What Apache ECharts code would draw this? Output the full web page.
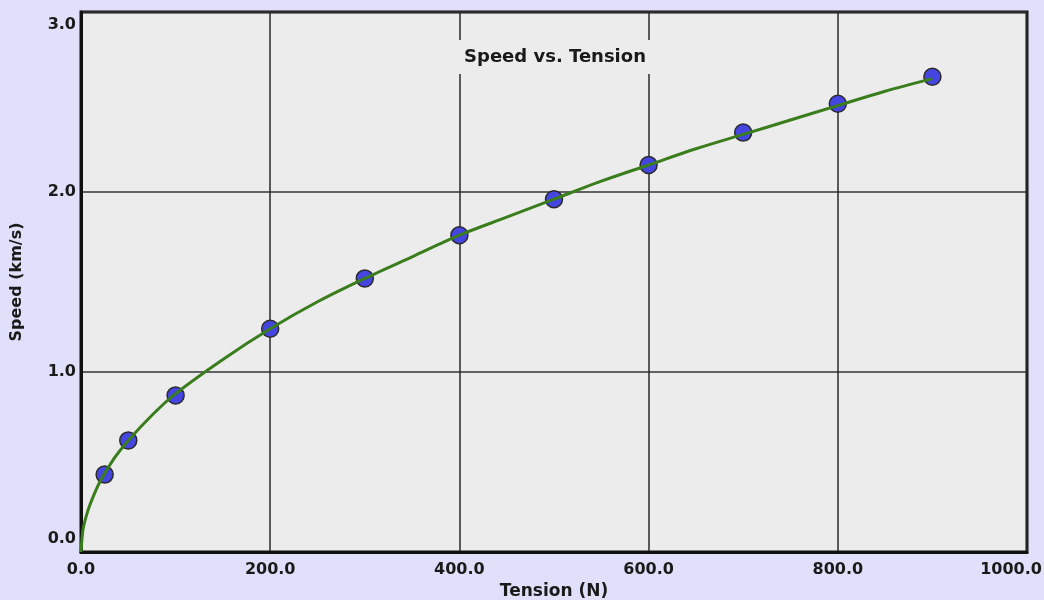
<!DOCTYPE html>
<html>
<head>
<meta charset="utf-8">
<script src="https://cdn.jsdelivr.net/npm/echarts@6/dist/echarts.min.js"></script>
<style>
  html, body { margin: 0; padding: 0; background: #e0e0fa; }
  #chart { width: 1044px; height: 600px; }
</style>
</head>
<body>
<div id="chart"></div>
<script>
// Measured wave speed on a string at each applied tension
const tension = [25, 50, 100, 200, 300, 400, 500, 600, 700, 800, 900];
const speed = [0.43, 0.62, 0.87, 1.24, 1.52, 1.76, 1.96, 2.15, 2.33, 2.49, 2.64];

// Fitted trend curve, sampled along the tension range
const fitTension = [0, 2, 5, 10, 20, 35, 50, 75, 100, 150, 200, 250, 300, 350, 400, 450, 500, 550, 600, 650, 700, 750, 800, 850, 900];
const fitSpeed = [0, 0.12, 0.19, 0.27, 0.39, 0.52, 0.62, 0.76, 0.88, 1.07, 1.24, 1.39, 1.52, 1.64, 1.76, 1.86, 1.96, 2.06, 2.15, 2.24, 2.32, 2.40, 2.48, 2.56, 2.63];

const titleText = 'Speed vs. Tension';
const xName = 'Tension (N)';
const yName = 'Speed (km/s)';

const FONT = 'DejaVu Sans';
const TXT = '#1a1a1a';

const chart = echarts.init(document.getElementById('chart'));

const tickStyle = { fontFamily: FONT, fontWeight: 'bold', fontSize: 16, color: TXT };

chart.setOption({
  backgroundColor: '#e0e0fa',
  animation: false,
  grid: {
    left: 81, right: 17, top: 12, bottom: 48,
    containLabel: false,
    outerBoundsMode: 'none',
    show: true,
    backgroundColor: '#ececec',
    borderColor: '#111',
    borderWidth: 3
  },
  graphic: [{
    type: 'text',
    x: 555, y: 57, z: 10,
    style: {
      text: titleText,
      font: 'bold 18px "' + FONT + '"',
      fill: TXT,
      align: 'center',
      verticalAlign: 'middle',
      backgroundColor: '#ececec',
      padding: [8, 6]
    }
  }],
  xAxis: {
    type: 'value',
    min: 0, max: 1000, interval: 200,
    name: xName,
    nameLocation: 'middle',
    nameGap: 29,
    nameTextStyle: { fontFamily: FONT, fontWeight: 'bold', fontSize: 17, color: TXT },
    axisLine: { show: true, onZero: false, lineStyle: { color: '#111', width: 3 } },
    axisTick: { show: false },
    splitLine: { show: true, lineStyle: { color: '#2a2a2a', width: 1.5 } },
    axisLabel: Object.assign({}, tickStyle, {
      margin: 10,
      formatter: function (v) {
        const s = v.toFixed(1);
        return v === 1000 ? '{last|' + s + '}' : s;
      },
      rich: { last: Object.assign({}, tickStyle, { padding: [0, 32, 0, 0] }) }
    })
  },
  yAxis: {
    type: 'value',
    min: 0, max: 3, interval: 1,
    name: yName,
    nameLocation: 'middle',
    nameGap: 56,
    nameRotate: 90,
    nameTextStyle: { fontFamily: FONT, fontWeight: 'bold', fontSize: 16, color: TXT },
    axisLine: { show: true, lineStyle: { color: '#111', width: 3 } },
    axisTick: { show: false },
    splitLine: { show: true, lineStyle: { color: '#333', width: 1.5 } },
    axisLabel: Object.assign({}, tickStyle, {
      margin: 5,
      formatter: function (v) {
        const s = v.toFixed(1);
        if (v === 0) return '{lo|' + s + '}';
        if (v === 3) return '{hi|' + s + '}';
        return s;
      },
      rich: {
        lo: Object.assign({}, tickStyle, { padding: [0, 0, 26, 0] }),
        hi: Object.assign({}, tickStyle, { padding: [26, 0, 0, 0] })
      }
    })
  },
  series: [
    {
      type: 'scatter',
      data: tension.map((t, i) => [t, speed[i]]),
      symbolSize: 17,
      itemStyle: { color: '#4545e2', borderColor: '#2a2a2a', borderWidth: 1.5, opacity: 1 },
      z: 3
    },
    {
      type: 'line',
      data: fitTension.map((t, i) => [t, fitSpeed[i]]),
      smooth: 0.3,
      showSymbol: false,
      lineStyle: { color: '#3a7d1c', width: 3 },
      z: 4
    }
  ]
});
</script>
</body>
</html>
